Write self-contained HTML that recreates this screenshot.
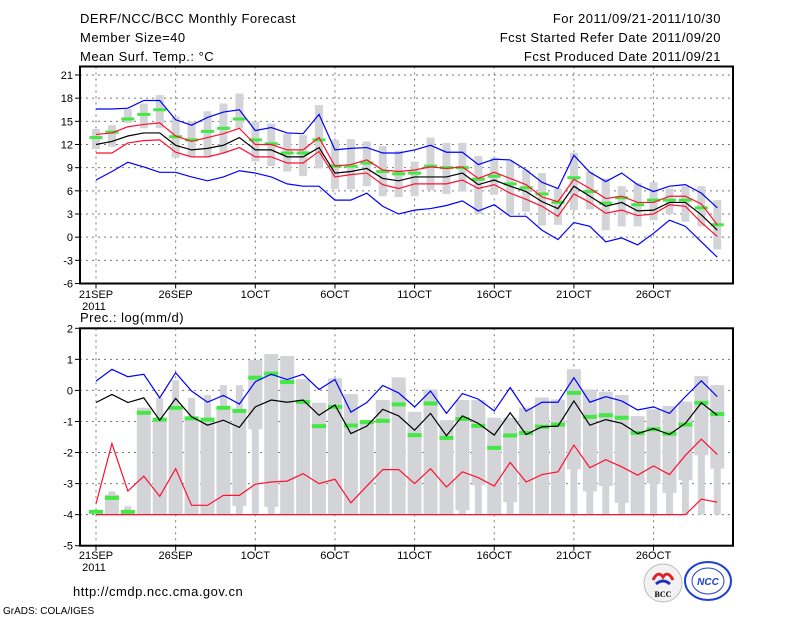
<!DOCTYPE html>
<html><head><meta charset="utf-8"><style>
body{margin:0;background:#fff;}
svg{display:block;font-family:"Liberation Sans",sans-serif;}
</style></head><body>
<svg id="chart" width="800" height="618" viewBox="0 0 800 618" xmlns="http://www.w3.org/2000/svg">
<rect width="800" height="618" fill="#fff"/>
<g font-size="13" fill="#000" letter-spacing="0.5">
<text x="80" y="23">DERF/NCC/BCC Monthly Forecast</text>
<text x="80" y="42">Member Size=40</text>
<text x="80" y="61">Mean Surf. Temp.: °C</text>
<text x="721" y="23" text-anchor="end">For 2011/09/21-2011/10/30</text>
<text x="721" y="42" text-anchor="end">Fcst Started Refer Date 2011/09/20</text>
<text x="721" y="61" text-anchor="end">Fcst Produced Date 2011/09/21</text>
<text x="80" y="322">Prec.: log(mm/d)</text>
<text x="73" y="596">http://cmdp.ncc.cma.gov.cn</text>
</g>
<text x="3" y="614" font-size="10">GrADS: COLA/IGES</text>
<g id="top"></g>
<g id="bot"></g>
<g>
<circle cx="663" cy="583" r="19" fill="#f2f2f2" stroke="#bbb"/>
<path d="M653 580 q5 -10 10 -3 q5 -7 10 3" fill="none" stroke="#e0202a" stroke-width="3"/>
<path d="M656 584 q7 -6 14 0" fill="none" stroke="#2030c0" stroke-width="3"/>
<text x="663" y="597" font-size="8" font-weight="bold" text-anchor="middle" font-family="Liberation Serif,serif">BCC</text>
</g>
<g>
<ellipse cx="708" cy="581" rx="23" ry="19" fill="#fff" stroke="#2040d0" stroke-width="2"/>
<ellipse cx="708" cy="581" rx="16" ry="13" fill="none" stroke="#2040d0"/>
<text x="708" y="585" font-size="10" font-weight="bold" font-style="italic" text-anchor="middle" fill="#2040d0">NCC</text>
</g>
</svg>
<script>
const days = ["21SEP","26SEP","1OCT","6OCT","11OCT","16OCT","21OCT","26OCT"];
const tMean=[12.0,12.4,13.1,13.5,13.5,11.9,11.3,11.5,11.9,12.9,11.3,11.3,10.4,10.4,11.6,8.3,8.5,8.9,7.6,7.3,7.8,7.8,7.8,8.3,6.8,7.4,6.6,5.9,4.6,3.7,6.6,5.3,4.0,4.5,3.4,3.5,4.5,4.5,2.9,0.9];
const tRedHi=[13.3,13.5,14.3,14.6,14.8,13.1,12.4,12.9,13.4,14.1,12.0,12.0,11.3,11.3,12.9,9.2,9.4,10.0,8.7,8.5,8.7,9.1,8.9,9.1,7.6,8.4,7.6,6.8,5.2,4.6,7.5,6.3,5.0,5.3,4.5,4.5,5.3,5.3,4.3,1.6];
const tRedLo=[10.9,10.9,12.2,12.5,12.6,11.0,10.4,10.4,10.9,11.6,10.4,10.4,9.6,9.6,11.1,7.8,8.1,8.3,6.8,6.3,6.9,6.9,6.9,7.4,6.3,6.8,5.7,4.9,4.0,2.7,5.6,4.5,3.1,3.5,2.8,3.0,4.2,4.0,1.9,0.1];
const tBlueHi=[16.6,16.6,16.7,17.7,17.7,15.2,14.5,15.5,16.2,16.5,13.8,14.2,13.5,13.4,15.9,11.3,11.5,11.6,10.9,10.9,11.3,11.9,11.0,11.0,9.4,10.1,10.0,8.7,7.1,6.3,10.6,8.4,7.2,8.3,6.8,5.9,6.6,6.8,5.7,3.8];
const tBlueLo=[7.4,8.5,9.7,9.1,8.4,8.4,7.8,7.3,7.8,8.6,8.3,7.8,6.9,6.6,6.6,4.8,4.8,5.7,4.0,3.0,3.5,3.7,4.1,4.7,3.4,4.2,2.7,2.7,0.9,-0.3,1.9,1.4,-0.6,-0.1,-1.0,0.5,2.2,1.4,-0.6,-2.6];
const tBoxHi=[14.0,14.5,16.6,17.3,18.4,15.6,15.0,16.3,17.3,18.6,15.0,14.7,13.4,13.2,17.1,12.6,12.7,12.4,11.8,11.2,9.8,12.9,12.2,12.2,10.5,10.3,9.9,8.7,8.3,6.3,10.9,8.5,7.6,6.6,7.0,7.1,6.3,6.6,6.6,4.8];
const tBoxLo=[11.4,11.7,14.8,14.1,14.1,10.3,10.4,10.4,10.9,14.1,9.8,9.2,8.5,7.9,8.9,6.2,6.2,6.6,5.3,5.2,5.3,6.1,5.6,5.9,3.0,5.5,2.9,3.3,1.5,1.6,3.5,3.6,0.9,1.4,1.4,2.2,3.0,2.0,1.4,-1.6];
const tGreen=[12.9,13.6,15.3,15.9,16.5,13.0,12.6,13.7,14.1,15.3,12.6,12.1,10.9,10.9,12.6,9.2,9.2,9.6,8.5,8.2,8.3,9.2,9.0,9.0,7.5,7.9,6.9,6.4,5.6,4.5,7.7,5.9,4.4,5.1,4.2,4.8,4.8,4.8,3.8,1.6];
const tTicks=[21,18,15,12,9,6,3,0,-3,-6];

const pMean=[-0.39,-0.13,-0.39,-0.24,-0.96,-0.26,-0.85,-1.12,-0.96,-1.19,-0.53,-0.31,-0.38,-0.31,-0.80,-0.47,-1.39,-1.15,-0.61,-0.82,-1.28,-0.74,-1.46,-0.82,-1.06,-1.44,-0.72,-1.42,-1.17,-1.15,-0.34,-1.12,-0.94,-1.06,-1.39,-1.23,-1.42,-1.06,-0.40,-0.80];
const pBlueHi=[0.30,0.68,0.44,0.52,-0.24,0.57,-0.02,-0.38,-0.16,-0.44,0.28,0.52,0.35,0.52,0.03,0.35,-0.70,-0.39,0.16,-0.08,-0.53,-0.02,-0.74,-0.10,-0.28,-0.66,0.09,-0.67,-0.38,-0.38,0.41,-0.38,-0.20,-0.34,-0.63,-0.53,-0.74,-0.20,0.31,-0.20];
const pRed=[-3.65,-1.71,-3.24,-2.76,-3.41,-2.52,-3.70,-3.70,-3.38,-3.38,-3.02,-2.95,-2.92,-2.68,-3.0,-2.86,-3.62,-3.08,-2.55,-2.55,-3.0,-2.52,-3.11,-2.62,-2.81,-3.08,-2.32,-2.95,-2.71,-2.62,-1.76,-2.49,-2.23,-2.46,-2.73,-2.43,-2.71,-2.09,-1.57,-2.06];
const pRedLo=[-4,-4,-4,-4,-4,-4,-4,-4,-4,-4,-4,-4,-4,-4,-4,-4,-4,-4,-4,-4,-4,-4,-4,-4,-4,-4,-4,-4,-4,-4,-4,-4,-4,-4,-4,-4,-4,-4,-3.5,-3.6];
const pGreen=[-3.91,-3.46,-3.91,-0.72,-0.94,-0.56,-0.90,-0.94,-0.56,-0.66,0.41,0.54,0.27,-0.37,-1.15,-0.53,-1.13,-1.02,-0.98,-0.45,-1.44,-0.42,-1.53,-0.92,-1.14,-1.85,-1.45,-1.37,-1.17,-1.10,-0.08,-0.85,-0.80,-0.88,-1.37,-1.25,-1.39,-1.10,-0.40,-0.76];
const pQHi=[-4,-3.35,-4,-0.56,-0.94,-0.55,-0.88,-1.02,-0.63,-0.68,0.98,1.17,1.11,0.36,-0.40,0.39,-0.12,-1.01,-0.31,0.42,-0.69,0.03,-0.96,-0.31,-0.31,-0.88,-0.88,-0.55,-0.23,-0.29,0.68,0.03,-0.04,-0.15,-0.83,-0.61,-0.50,-0.36,0.46,0.17];
const pQLo=[-4,-4,-4,-4,-4,-4,-4,-4,-4,-3.72,-1.25,-3.75,-4,-4,-4,-4,-4,-4,-4,-4,-4,-4,-4,-3.86,-3.05,-4,-3.6,-4,-4,-4,-2.54,-3.25,-3.08,-3.62,-4,-3.0,-3.3,-2.89,-2.09,-2.52];
const pWHi=[-4,-3.25,-3.73,-0.56,-0.24,0.33,-0.24,-0.15,0.17,0.17,0.98,1.17,1.11,0.36,-0.40,0.39,-0.12,-1.01,-0.31,0.42,-0.69,0.03,-0.96,-0.31,-0.31,-0.88,-0.88,-0.55,-0.23,-0.29,0.68,0.03,-0.04,-0.15,-0.83,-0.61,-0.50,-0.36,0.46,0.17];
const pTicks=[2,1,0,-1,-2,-3,-4,-5];

const NS="http://www.w3.org/2000/svg";
function mk(parent,tag,attrs){const e=document.createElementNS(NS,tag);for(const k in attrs)e.setAttribute(k,attrs[k]);parent.appendChild(e);return e;}
const xDay=i=>96+15.93*i;
const X0=80,X1=733;

function panel(g,top,bot,vmax,vmin,ticks,lblY){
  const y=v=>top+(vmax-v)/(vmax-vmin)*(bot-top);
  ticks.forEach(t=>{
    if(t!==vmax&&t!==vmin){const l=mk(g,'line',{x1:X0,x2:X1,y1:y(t),y2:y(t),stroke:'#777','stroke-dasharray':'2,4'});
    
    }
    const tk=mk(g,'line',{x1:X0-5,x2:X0,y1:y(t),y2:y(t),stroke:'#000'});
    
    
    const tx=mk(g,'text',{x:X0-7,y:y(t)+4,'font-size':11,'text-anchor':'end'});tx.textContent=t;
    
    
  });
  days.forEach((d,k)=>{
    const x=xDay(k*5);
    const l=mk(g,'line',{x1:x,x2:x,y1:top,y2:bot,stroke:'#777','stroke-dasharray':'2,4'});
    
    
    const tk=mk(g,'line',{x1:x,x2:x,y1:bot,y2:bot+5,stroke:'#000'});
    
    
    const tx=mk(g,'text',{x:x,y:lblY,'font-size':11,'text-anchor':'middle'});tx.textContent=d;
    
    
  });
  const yr=mk(g,'text',{x:xDay(0)-2,y:lblY+12,'font-size':11,'text-anchor':'middle'});yr.textContent='2011';
  
  
  return y;
}
function line(g,arr,y,color,name){
  const p=mk(g,'polyline',{points:arr.map((v,i)=>xDay(i)+','+y(v)).join(' '),fill:'none',stroke:color,'stroke-width':1.2});
  
  
}
function frame(g,top,bot){
  const r=mk(g,'rect',{x:X0,y:top,width:X1-X0,height:bot-top,fill:'none',stroke:'#000','stroke-width':2});
  
  
}

const gt=document.getElementById('top');
const yt=panel(gt,66.5,283.5,22.1,-6,tTicks,298);
tBoxHi.forEach((v,i)=>{
  const r=mk(gt,'rect',{x:xDay(i)-4,y:yt(v),width:8,height:yt(tBoxLo[i])-yt(v),fill:'#d3d4d8'});
  
  
});
tGreen.forEach((v,i)=>{
  const r=mk(gt,'rect',{x:xDay(i)-6.5,y:yt(v)-1.5,width:13,height:3,fill:'#44e844'});
  
  
});
line(gt,tBlueHi,yt,'#0000ff','max-line');
line(gt,tBlueLo,yt,'#0000ff','min-line');
line(gt,tRedHi,yt,'#ff1030','upper-std-line');
line(gt,tRedLo,yt,'#ff1030','lower-std-line');
line(gt,tMean,yt,'#000','mean-line');
frame(gt,66.5,283.5);

const gb=document.getElementById('bot');
const yb=panel(gb,328.3,545.7,2,-5,pTicks,559);
pWHi.forEach((v,i)=>{
  const r=mk(gb,'rect',{x:xDay(i)-3.5,y:yb(v),width:7,height:yb(-4)-yb(v),fill:'#d3d4d8'});
  
  
});
pQHi.forEach((v,i)=>{
  const r=mk(gb,'rect',{x:xDay(i)-7,y:yb(v),width:14,height:Math.max(0,yb(pQLo[i])-yb(v)),fill:'#d3d4d8'});
  
  
});
pGreen.forEach((v,i)=>{
  const r=mk(gb,'rect',{x:xDay(i)-7,y:yb(v)-2,width:14,height:4,fill:'#44e844'});
  
  
});
line(gb,pRedLo,yb,'#ff1030','precip-lower-line');
line(gb,pRed,yb,'#ff1030','precip-red-line');
line(gb,pBlueHi,yb,'#0000ff','precip-max-line');
line(gb,pMean,yb,'#000','precip-mean-line');
frame(gb,328.3,545.7);
</script>
</body></html>
